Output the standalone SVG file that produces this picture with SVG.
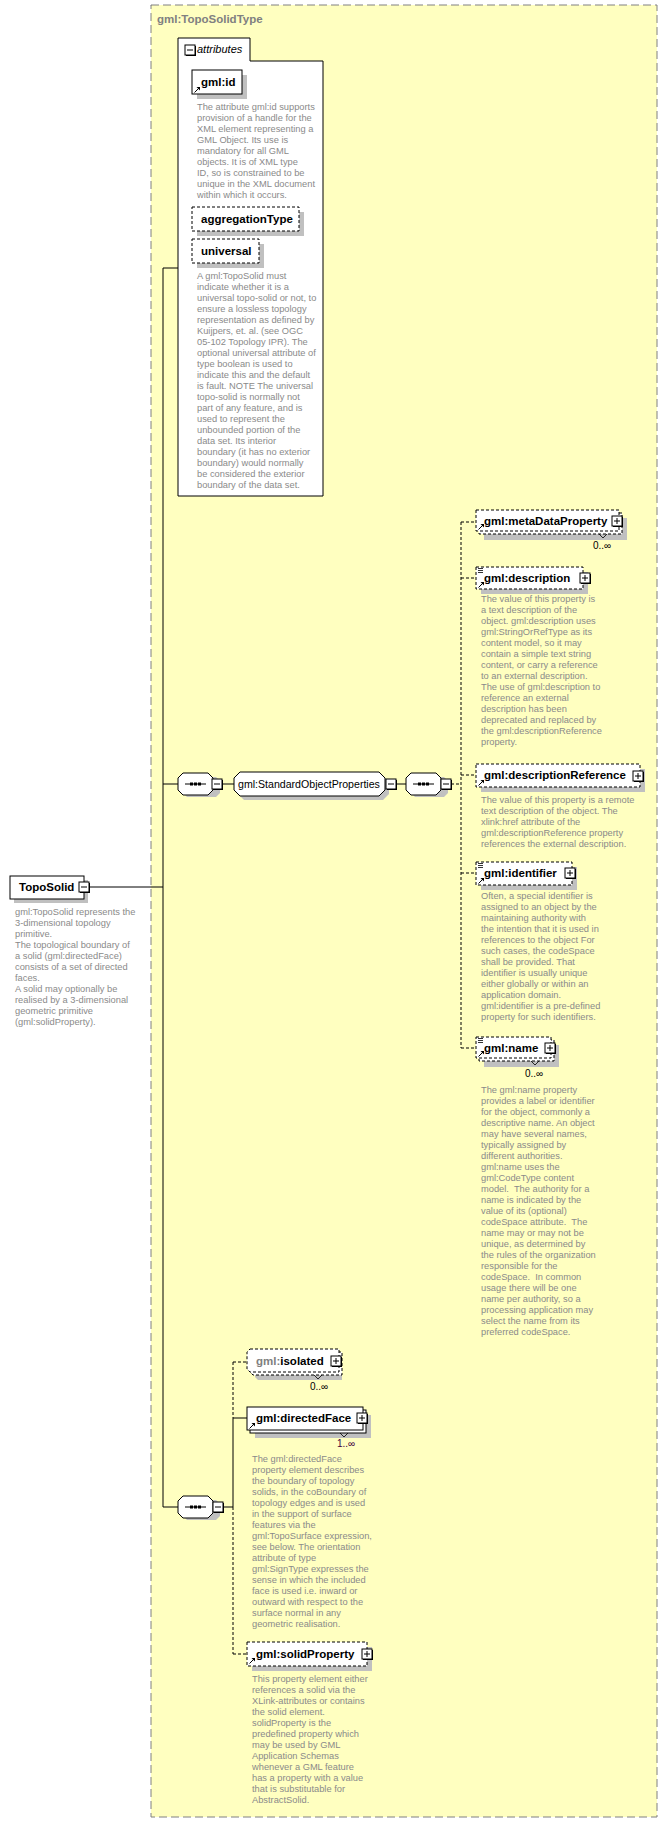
<svg xmlns="http://www.w3.org/2000/svg" width="668" height="1822" viewBox="0 0 668 1822">
<style>
.desc{font-family:"Liberation Sans",Arial,sans-serif;font-size:9.3px;fill:#8a8a8a}
.lbl{font-family:"Liberation Sans",Arial,sans-serif;font-size:11.5px;font-weight:bold;fill:#000}
.reg{font-family:"Liberation Sans",Arial,sans-serif;font-size:10.6px;fill:#000}
.occ{font-family:"Liberation Sans",Arial,sans-serif;font-size:10px;fill:#000}
.box{fill:#fff;stroke:#000;stroke-width:1}
.opt{stroke-dasharray:3,2}
.sh{fill:#c0c0c0}
.conn{stroke:#000;stroke-width:1;fill:none}
.dash{stroke-dasharray:3,2}
</style>
<defs>
<symbol id="plus" overflow="visible">
<rect x="1" y="1" width="10" height="10" fill="#000"/>
<rect x="0" y="0" width="10" height="10" fill="#fff" stroke="#000"/>
<path d="M2,5 H8 M5,2 V8" stroke="#000" fill="none"/>
</symbol>
<symbol id="minus" overflow="visible">
<rect x="1" y="1" width="10" height="10" fill="#000"/>
<rect x="0" y="0" width="10" height="10" fill="#fff" stroke="#000"/>
<path d="M2,5 H8" stroke="#000" fill="none"/>
</symbol>
<symbol id="ref" overflow="visible">
<path d="M0.5,6.5 L5,2" stroke="#000" fill="none"/>
<path d="M2.5,1 H6 V4.5 Z" fill="#000"/>
</symbol>
<symbol id="mix" overflow="visible">
<path d="M0,0.5 H5 M0,2.5 H5 M0,4.5 H5" stroke="#000" fill="none" stroke-width="0.8"/>
</symbol>
<symbol id="seq" overflow="visible">
<path d="M9,4 H38 L42,8 V20 L38,24 H9 L5,20 V8 Z" class="sh"/>
<path d="M5,0 H30 L35,5 V17 L30,22 H5 L0,17 V5 Z" class="box"/>
<path d="M7,11 H28" stroke="#000"/>
<rect x="12" y="9.5" width="3" height="3" fill="#000"/>
<rect x="16" y="9.5" width="3" height="3" fill="#000"/>
<rect x="20" y="9.5" width="3" height="3" fill="#000"/>
</symbol>
</defs>

<g id="type">
<rect x="151" y="5" width="506" height="1812" fill="#ffffc0" stroke="#808080" stroke-dasharray="8,4"/>
<text x="157" y="23" class="lbl" style="fill:#808080">gml:TopoSolidType</text>
</g>

<g id="connectors">
<path class="conn" d="M90,887 H163 M163,268 V1507 H178 M163,268 H178 M163,784 H178"/>
<path class="conn" d="M222,784 H234 M396,784 H407"/>
<path class="conn dash" d="M451,784 H461 M461,522 V1048 M461,522 H476 M461,578 H476 M461,775 H476 M461,873 H476 M461,1048 H476"/>
<path class="conn" d="M223,1507 H233 M233,1418 V1507 M233,1418 H247"/>
<path class="conn dash" d="M233,1362 V1418 M233,1507 V1654 M233,1362 H247 M233,1654 H247"/>
</g>

<g id="attributes">
<path d="M178,38 H250 V61 H323 V496 H178 Z" class="box"/>
<use href="#minus" x="185" y="45"/>
<text x="197" y="53" style="font-family:'Liberation Sans',Arial,sans-serif;font-size:11px;font-style:italic">attributes</text>
</g>

<g id="gml-id">
<rect x="197" y="75" width="50" height="24" class="sh"/>
<rect x="192" y="70" width="50" height="24" class="box"/>
<use href="#ref" x="194" y="86"/>
<text x="201" y="86" class="lbl">gml:id</text>
<text class="desc" x="197" y="110">The attribute gml:id supports<tspan x="197" dy="11">provision of a handle for the</tspan><tspan x="197" dy="11">XML element representing a</tspan><tspan x="197" dy="11">GML Object. Its use is</tspan><tspan x="197" dy="11">mandatory for all GML</tspan><tspan x="197" dy="11">objects. It is of XML type</tspan><tspan x="197" dy="11">ID, so is constrained to be</tspan><tspan x="197" dy="11">unique in the XML document</tspan><tspan x="197" dy="11">within which it occurs.</tspan></text>
</g>

<g id="aggregationType">
<rect x="197" y="212" width="107" height="24" class="sh"/>
<rect x="192" y="207" width="107" height="24" class="box opt"/>
<text x="201" y="223" class="lbl">aggregationType</text>
</g>

<g id="universal">
<rect x="197" y="244" width="67" height="24" class="sh"/>
<rect x="192" y="239" width="67" height="24" class="box opt"/>
<text x="201" y="255" class="lbl">universal</text>
<text class="desc" x="197" y="279">A gml:TopoSolid must<tspan x="197" dy="11">indicate whether it is a</tspan><tspan x="197" dy="11">universal topo-solid or not, to</tspan><tspan x="197" dy="11">ensure a lossless topology</tspan><tspan x="197" dy="11">representation as defined by</tspan><tspan x="197" dy="11">Kuijpers, et. al. (see OGC</tspan><tspan x="197" dy="11">05-102 Topology IPR). The</tspan><tspan x="197" dy="11">optional universal attribute of</tspan><tspan x="197" dy="11">type boolean is used to</tspan><tspan x="197" dy="11">indicate this and the default</tspan><tspan x="197" dy="11">is fault. NOTE The universal</tspan><tspan x="197" dy="11">topo-solid is normally not</tspan><tspan x="197" dy="11">part of any feature, and is</tspan><tspan x="197" dy="11">used to represent the</tspan><tspan x="197" dy="11">unbounded portion of the</tspan><tspan x="197" dy="11">data set. Its interior</tspan><tspan x="197" dy="11">boundary (it has no exterior</tspan><tspan x="197" dy="11">boundary) would normally</tspan><tspan x="197" dy="11">be considered the exterior</tspan><tspan x="197" dy="11">boundary of the data set.</tspan></text>
</g>

<g id="TopoSolid">
<rect x="14" y="880" width="74" height="23" class="sh"/>
<rect x="10" y="876" width="74" height="23" class="box"/>
<text x="19" y="891" class="lbl">TopoSolid</text>
<use href="#minus" x="79" y="882"/>
<text class="desc" x="15" y="915">gml:TopoSolid represents the<tspan x="15" dy="11">3-dimensional topology</tspan><tspan x="15" dy="11">primitive.</tspan><tspan x="15" dy="11">The topological boundary of</tspan><tspan x="15" dy="11">a solid (gml:directedFace)</tspan><tspan x="15" dy="11">consists of a set of directed</tspan><tspan x="15" dy="11">faces.</tspan><tspan x="15" dy="11">A solid may optionally be</tspan><tspan x="15" dy="11">realised by a 3-dimensional</tspan><tspan x="15" dy="11">geometric primitive</tspan><tspan x="15" dy="11">(gml:solidProperty).</tspan></text>
</g>

<g id="sequence1">
<use href="#seq" x="178" y="773"/>
<use href="#minus" x="212" y="779"/>
</g>

<g id="StandardObjectProperties">
<path d="M244,776 H383 L389,782 V794 L383,800 H244 L238,794 V782 Z" class="sh"/>
<path d="M240,772 H379 L385,778 V790 L379,796 H240 L234,790 V778 Z" class="box"/>
<text x="238" y="788" class="reg">gml:StandardObjectProperties</text>
<use href="#minus" x="386" y="779"/>
</g>

<g id="sequence2">
<use href="#seq" x="406" y="773"/>
<use href="#minus" x="441" y="779"/>
</g>

<g id="metaDataProperty">
<rect x="484" y="518" width="143" height="22" class="sh"/>
<rect x="479" y="513" width="143" height="21" class="box opt"/>
<rect x="476" y="510" width="143" height="21" class="box opt"/>
<path d="M599,534 L603,538 L607,534" stroke="#000" fill="none" stroke-width="0.8"/>
<use href="#ref" x="478" y="523"/>
<text x="484" y="525" class="lbl">gml:metaDataProperty</text>
<use href="#plus" x="612" y="516"/>
<text x="593" y="549" class="occ">0..∞</text>
</g>

<g id="description">
<rect x="481" y="572" width="107" height="22" class="sh"/>
<rect x="476" y="567" width="107" height="22" class="box opt"/>
<use href="#mix" x="478" y="568"/>
<use href="#ref" x="478" y="581"/>
<text x="484" y="582" class="lbl">gml:description</text>
<use href="#plus" x="580" y="573"/>
<text class="desc" x="481" y="602">The value of this property is<tspan x="481" dy="11">a text description of the</tspan><tspan x="481" dy="11">object. gml:description uses</tspan><tspan x="481" dy="11">gml:StringOrRefType as its</tspan><tspan x="481" dy="11">content model, so it may</tspan><tspan x="481" dy="11">contain a simple text string</tspan><tspan x="481" dy="11">content, or carry a reference</tspan><tspan x="481" dy="11">to an external description.</tspan><tspan x="481" dy="11">The use of gml:description to</tspan><tspan x="481" dy="11">reference an external</tspan><tspan x="481" dy="11">description has been</tspan><tspan x="481" dy="11">deprecated and replaced by</tspan><tspan x="481" dy="11">the gml:descriptionReference</tspan><tspan x="481" dy="11">property.</tspan></text>
</g>

<g id="descriptionReference">
<rect x="481" y="769" width="164" height="23" class="sh"/>
<rect x="476" y="764" width="164" height="23" class="box opt"/>
<use href="#ref" x="478" y="779"/>
<text x="484" y="779" class="lbl">gml:descriptionReference</text>
<use href="#plus" x="633" y="771"/>
<text class="desc" x="481" y="803">The value of this property is a remote<tspan x="481" dy="11">text description of the object. The</tspan><tspan x="481" dy="11">xlink:href attribute of the</tspan><tspan x="481" dy="11">gml:descriptionReference property</tspan><tspan x="481" dy="11">references the external description.</tspan></text>
</g>

<g id="identifier">
<rect x="481" y="867" width="96" height="23" class="sh"/>
<rect x="476" y="862" width="96" height="23" class="box opt"/>
<use href="#mix" x="478" y="863"/>
<use href="#ref" x="478" y="877"/>
<text x="484" y="877" class="lbl">gml:identifier</text>
<use href="#plus" x="565" y="868"/>
<text class="desc" x="481" y="899">Often, a special identifier is<tspan x="481" dy="11">assigned to an object by the</tspan><tspan x="481" dy="11">maintaining authority with</tspan><tspan x="481" dy="11">the intention that it is used in</tspan><tspan x="481" dy="11">references to the object For</tspan><tspan x="481" dy="11">such cases, the codeSpace</tspan><tspan x="481" dy="11">shall be provided. That</tspan><tspan x="481" dy="11">identifier is usually unique</tspan><tspan x="481" dy="11">either globally or within an</tspan><tspan x="481" dy="11">application domain.</tspan><tspan x="481" dy="11">gml:identifier is a pre-defined</tspan><tspan x="481" dy="11">property for such identifiers.</tspan></text>
</g>

<g id="name">
<rect x="484" y="1045" width="75" height="22" class="sh"/>
<rect x="479" y="1040" width="75" height="21" class="box opt"/>
<rect x="476" y="1037" width="75" height="21" class="box opt"/>
<path d="M531,1061 L535,1065 L539,1061" stroke="#000" fill="none" stroke-width="0.8"/>
<use href="#mix" x="478" y="1038"/>
<use href="#ref" x="478" y="1050"/>
<text x="484" y="1052" class="lbl">gml:name</text>
<use href="#plus" x="545" y="1043"/>
<text x="525" y="1077" class="occ">0..∞</text>
<text class="desc" x="481" y="1093" xml:space="preserve">The gml:name property<tspan x="481" dy="11">provides a label or identifier</tspan><tspan x="481" dy="11">for the object, commonly a</tspan><tspan x="481" dy="11">descriptive name. An object</tspan><tspan x="481" dy="11">may have several names,</tspan><tspan x="481" dy="11">typically assigned by</tspan><tspan x="481" dy="11">different authorities.</tspan><tspan x="481" dy="11">gml:name uses the</tspan><tspan x="481" dy="11">gml:CodeType content</tspan><tspan x="481" dy="11">model.  The authority for a</tspan><tspan x="481" dy="11">name is indicated by the</tspan><tspan x="481" dy="11">value of its (optional)</tspan><tspan x="481" dy="11">codeSpace attribute.  The</tspan><tspan x="481" dy="11">name may or may not be</tspan><tspan x="481" dy="11">unique, as determined by</tspan><tspan x="481" dy="11">the rules of the organization</tspan><tspan x="481" dy="11">responsible for the</tspan><tspan x="481" dy="11">codeSpace.  In common</tspan><tspan x="481" dy="11">usage there will be one</tspan><tspan x="481" dy="11">name per authority, so a</tspan><tspan x="481" dy="11">processing application may</tspan><tspan x="481" dy="11">select the name from its</tspan><tspan x="481" dy="11">preferred codeSpace.</tspan></text>
</g>

<g id="sequence3">
<use href="#seq" x="178" y="1496"/>
<use href="#minus" x="213" y="1502"/>
</g>

<g id="isolated">
<path d="M258,1357 H342 V1380 H258 L255,1377 V1360 Z" class="sh"/>
<path d="M253,1352 H342 V1375 H253 L250,1372 V1355 Z" class="box opt"/>
<path d="M250,1349 H339 V1372 H250 L247,1369 V1352 Z" class="box opt"/>
<path d="M314,1375 L318,1379 L322,1375" stroke="#000" fill="none" stroke-width="0.8"/>
<text x="256" y="1365" class="lbl"><tspan style="fill:#808080">gml:</tspan>isolated</text>
<use href="#plus" x="331" y="1356"/>
<text x="310" y="1390" class="occ">0..∞</text>
</g>

<g id="directedFace">
<rect x="255" y="1415" width="116" height="23" class="sh"/>
<rect x="250" y="1410" width="116" height="23" class="box"/>
<rect x="247" y="1407" width="116" height="23" class="box"/>
<path d="M340,1433 L344,1437 L348,1433" stroke="#000" fill="none" stroke-width="0.8"/>
<use href="#ref" x="249" y="1422"/>
<text x="256" y="1422" class="lbl">gml:directedFace</text>
<use href="#plus" x="357" y="1413"/>
<text x="337" y="1447" class="occ" style="fill:#400040">1..∞</text>
<text class="desc" x="252" y="1462">The gml:directedFace<tspan x="252" dy="11">property element describes</tspan><tspan x="252" dy="11">the boundary of topology</tspan><tspan x="252" dy="11">solids, in the coBoundary of</tspan><tspan x="252" dy="11">topology edges and is used</tspan><tspan x="252" dy="11">in the support of surface</tspan><tspan x="252" dy="11">features via the</tspan><tspan x="252" dy="11">gml:TopoSurface expression,</tspan><tspan x="252" dy="11">see below. The orientation</tspan><tspan x="252" dy="11">attribute of type</tspan><tspan x="252" dy="11">gml:SignType expresses the</tspan><tspan x="252" dy="11">sense in which the included</tspan><tspan x="252" dy="11">face is used i.e. inward or</tspan><tspan x="252" dy="11">outward with respect to the</tspan><tspan x="252" dy="11">surface normal in any</tspan><tspan x="252" dy="11">geometric realisation.</tspan></text>
</g>

<g id="solidProperty">
<rect x="252" y="1647" width="120" height="24" class="sh"/>
<rect x="247" y="1642" width="120" height="24" class="box opt"/>
<use href="#ref" x="249" y="1657"/>
<text x="256" y="1658" class="lbl">gml:solidProperty</text>
<use href="#plus" x="362" y="1649"/>
<text class="desc" x="252" y="1682">This property element either<tspan x="252" dy="11">references a solid via the</tspan><tspan x="252" dy="11">XLink-attributes or contains</tspan><tspan x="252" dy="11">the solid element.</tspan><tspan x="252" dy="11">solidProperty is the</tspan><tspan x="252" dy="11">predefined property which</tspan><tspan x="252" dy="11">may be used by GML</tspan><tspan x="252" dy="11">Application Schemas</tspan><tspan x="252" dy="11">whenever a GML feature</tspan><tspan x="252" dy="11">has a property with a value</tspan><tspan x="252" dy="11">that is substitutable for</tspan><tspan x="252" dy="11">AbstractSolid.</tspan></text>
</g>
</svg>
